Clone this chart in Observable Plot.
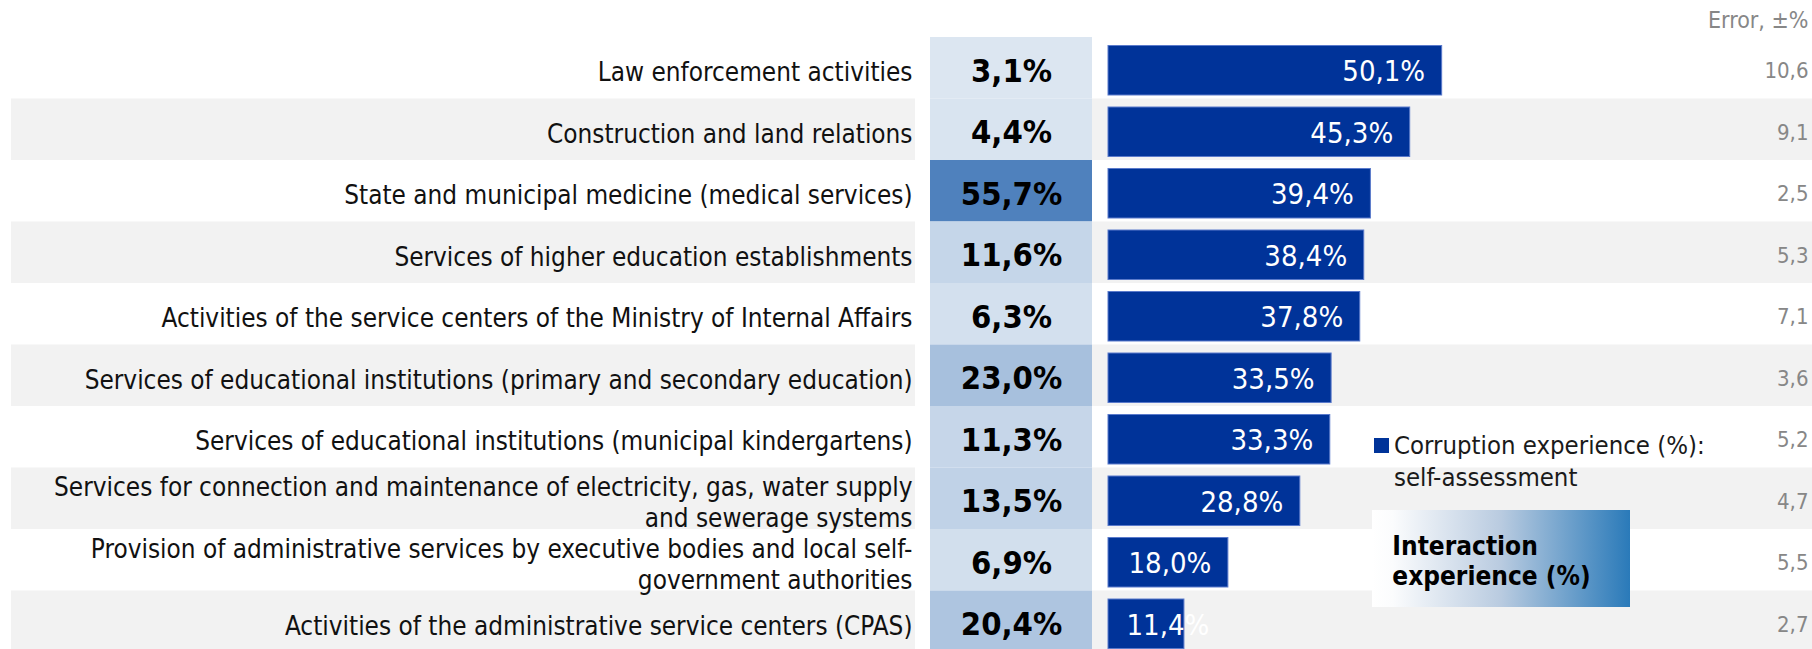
<!DOCTYPE html>
<html>
<head>
<meta charset="utf-8">
<script src="https://cdn.jsdelivr.net/npm/d3@7"></script>
<script src="https://cdn.jsdelivr.net/npm/@observablehq/plot@0.6"></script>
<style>
  html, body { margin: 0; padding: 0; background: #fff; }
  #chart { position: relative; width: 1812px; height: 649px; display: flex; overflow: hidden;
           font-family: "DejaVu Sans Condensed", "DejaVu Sans", sans-serif; font-stretch: condensed; }
  #chart svg { display: block; flex: none; }
  .legend-key { position: absolute; left: 1374px; top: 438px; width: 15px; height: 15px; background: #003399; }
  .legend-text { position: absolute; left: 1394px; top: 428.5px; font-size: 25.5px; line-height: 32.4px; color: #1a1a1a; white-space: nowrap; }
  .grad-box { position: absolute; left: 1372px; top: 510px; width: 258px; height: 97px; box-sizing: border-box;
              padding: 20.7px 0 0 20.3px;
              background: linear-gradient(to right, #ffffff 0%, #fbfcfd 8%, #b9cbe0 50%, #2a7ab9 100%);
              font-weight: bold; font-size: 26px; line-height: 30.7px; color: #000; white-space: nowrap; }
</style>
</head>
<body>
<div id="chart"></div>
<script>
const categories = [
  "Law enforcement activities",
  "Construction and land relations",
  "State and municipal medicine (medical services)",
  "Services of higher education establishments",
  "Activities of the service centers of the Ministry of Internal Affairs",
  "Services of educational institutions (primary and secondary education)",
  "Services of educational institutions (municipal kindergartens)",
  "Services for connection and maintenance of electricity, gas, water supply\nand sewerage systems",
  "Provision of administrative services by executive bodies and local self-\ngovernment authorities",
  "Activities of the administrative service centers (CPAS)"
];
const interaction = [3.1, 4.4, 55.7, 11.6, 6.3, 23.0, 11.3, 13.5, 6.9, 20.4];
const corruption = [50.1, 45.3, 39.4, 38.4, 37.8, 33.5, 33.3, 28.8, 18.0, 11.4];
const errorMargin = [10.6, 9.1, 2.5, 5.3, 7.1, 3.6, 5.2, 4.7, 5.5, 2.7];
const errorHeader = "Error, ±%";
const legendCorruption = ["Corruption experience (%):", "self-assessment"];
const legendInteraction = ["Interaction", "experience (%)"];

const rows = categories.map((label, i) => ({
  label, i,
  interaction: interaction[i],
  corruption: corruption[i],
  error: errorMargin[i]
}));
const striped = rows.filter(d => d.i % 2 === 1);
const fmt = v => d3.format(".1f")(v).replace(".", ",");
const FONT = '"DejaVu Sans Condensed", "DejaVu Sans", sans-serif';
const H = 649;
const yScale = {domain: categories, range: [37, 652], padding: 0, round: false, axis: null};
const baseStyle = {fontFamily: FONT, fontStretch: "condensed", background: "transparent", overflow: "visible"};

// Column 1: category labels
const labelsPlot = Plot.plot({
  width: 930, height: H,
  marginLeft: 11, marginRight: 15, marginTop: 0, marginBottom: 0,
  y: yScale,
  style: baseStyle,
  marks: [
    Plot.cell(striped, {y: "label", fill: "#f2f2f2"}),
    Plot.text(rows, {y: "label", text: "label", frameAnchor: "right", textAnchor: "end",
      dx: -3, dy: 3, fontSize: 25.9, lineHeight: 1.2, fill: "#111"})
  ]
});

// Column 2: interaction experience (colour-coded cells)
const interactionPlot = Plot.plot({
  width: 162, height: H,
  marginLeft: 0, marginRight: 0, marginTop: 0, marginBottom: 0,
  y: yScale,
  color: {type: "linear", domain: d3.extent(interaction), range: ["#dce6f1", "#4f81bd"]},
  style: baseStyle,
  marks: [
    Plot.cell(rows, {y: "label", fill: "interaction"}),
    Plot.text(rows, {y: "label", text: d => fmt(d.interaction) + "%", frameAnchor: "middle",
      fontWeight: "bold", fontSize: 32.5, dy: 3, fill: "#000"})
  ]
});

// Column 3: corruption experience bars + error column
const barsPlot = Plot.plot({
  width: 720, height: H,
  marginLeft: 0, marginRight: 0, marginTop: 0, marginBottom: 0,
  x: {domain: [0, 100], range: [16, 682], axis: null},
  y: yScale,
  style: baseStyle,
  marks: [
    Plot.cell(striped, {y: "label", fill: "#f2f2f2"}),
    Plot.barX(rows, {x: "corruption", y: "label", fill: "#003399", stroke: "#5a7acb", strokeWidth: 1,
      insetTop: 8.5, insetBottom: 3.5}),
    Plot.text(rows, {x: d => Math.max(d.corruption, 17.7), y: "label", text: d => fmt(d.corruption) + "%",
      textAnchor: "end", dx: -17, dy: 3.5, fontSize: 29, fill: "#fff"}),
    Plot.text(rows, {y: "label", text: d => fmt(d.error), frameAnchor: "right", textAnchor: "end",
      dx: -4, dy: 3, fontSize: 22, fill: "#878787"}),
    Plot.text([errorHeader], {text: d => d, frameAnchor: "top-right", textAnchor: "end", lineAnchor: "middle",
      dx: -4, dy: 20, fontSize: 23, fill: "#878787"})
  ]
});

const chart = document.getElementById("chart");
chart.append(labelsPlot, interactionPlot, barsPlot);

const key = document.createElement("div");
key.className = "legend-key";
const keyText = document.createElement("div");
keyText.className = "legend-text";
keyText.innerHTML = legendCorruption.join("<br>");
const grad = document.createElement("div");
grad.className = "grad-box";
grad.innerHTML = legendInteraction.join("<br>");
chart.append(key, keyText, grad);
</script>
</body>
</html>
